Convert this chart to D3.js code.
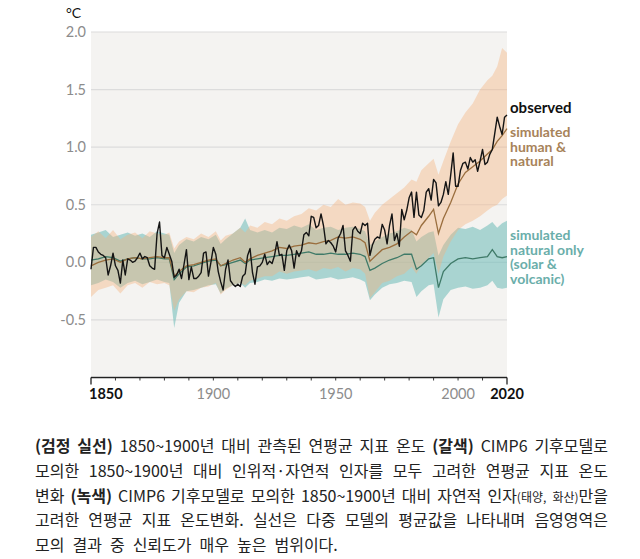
<!DOCTYPE html>
<html><head><meta charset="utf-8">
<script src="https://cdn.jsdelivr.net/npm/d3@7/dist/d3.min.js"></script>
<style>body{margin:0;background:#fff}svg{display:block}</style>
</head><body>
<svg id="c" width="640" height="559"></svg>
<script>
// ---------- data ----------
const obsYears = d3.range(1850, 2021);
const observed = [
-0.06,0.13,0.13,0.09,0.07,0.06,0.04,-0.11,-0.03,0.08,
-0.03,-0.07,-0.18,0.02,-0.11,0.03,0.02,0.00,0.01,0.04,
0.08,0.03,0.05,0.04,-0.03,-0.05,-0.06,0.25,0.35,0.06,
0.04,0.13,0.07,0.01,-0.13,-0.11,-0.06,-0.14,-0.02,0.11,
-0.15,-0.04,-0.14,-0.14,-0.12,-0.09,0.08,0.09,-0.12,0.00,
0.13,0.07,-0.08,-0.17,-0.24,-0.06,0.02,-0.16,-0.19,-0.21,
-0.19,-0.21,-0.12,-0.10,0.06,0.12,-0.09,-0.19,-0.04,-0.03,
0.00,0.07,-0.02,0.01,-0.01,0.06,0.18,0.06,0.07,-0.07,
0.10,0.15,0.10,-0.05,0.10,0.05,0.10,0.24,0.26,0.23,
0.40,0.39,0.30,0.32,0.42,0.32,0.16,0.19,0.17,0.14,
0.09,0.21,0.25,0.32,0.10,0.06,0.01,0.28,0.31,0.27,
0.25,0.34,0.32,0.34,0.06,0.15,0.20,0.22,0.21,0.33,
0.28,0.16,0.32,0.42,0.19,0.25,0.14,0.46,0.37,0.45,
0.56,0.61,0.39,0.61,0.41,0.39,0.45,0.61,0.64,0.54,
0.72,0.69,0.49,0.52,0.59,0.70,0.59,0.76,0.95,0.66,
0.66,0.80,0.86,0.87,0.81,0.91,0.87,0.89,0.79,0.88,
0.98,0.85,0.87,0.94,0.98,1.12,1.26,1.18,1.11,1.26,
1.28];

const simYears = [1850,1853,1856,1859,1862,1865,1868,1871,1874,1877,
1880,1882,1884,1886,1889,1892,1895,1898,1901,1903,
1905,1908,1911,1913,1915,1918,1921,1924,1927,1930,
1933,1936,1939,1942,1945,1948,1951,1954,1957,1960,
1962,1964,1966,1969,1972,1975,1978,1981,1983,1985,
1988,1990,1992,1994,1997,2000,2003,2006,2009,2012,
2014,2016,2018,2020];

const humanNatural = [-0.03,0.00,0.02,0.03,0.00,0.03,0.04,0.03,0.04,0.05,
0.04,0.04,-0.12,-0.08,-0.03,-0.02,0.00,0.02,0.03,-0.03,
-0.01,0.02,0.04,0.00,0.03,0.06,0.08,0.10,0.13,0.12,
0.14,0.15,0.17,0.16,0.18,0.19,0.22,0.21,0.22,0.20,
0.17,0.01,0.05,0.11,0.13,0.16,0.22,0.27,0.24,0.32,
0.40,0.46,0.25,0.38,0.52,0.68,0.78,0.83,0.88,0.94,
0.98,1.05,1.10,1.16];

const humanNaturalLow = [-0.30,-0.24,-0.22,-0.20,-0.27,-0.20,-0.18,-0.22,-0.17,-0.19,
-0.18,-0.20,-0.42,-0.32,-0.25,-0.26,-0.22,-0.21,-0.18,-0.28,
-0.24,-0.20,-0.18,-0.20,-0.16,-0.14,-0.12,-0.12,-0.08,-0.10,
-0.08,-0.07,-0.06,-0.08,-0.05,-0.06,-0.04,-0.08,-0.05,-0.06,
-0.10,-0.31,-0.26,-0.18,-0.16,-0.12,-0.10,-0.04,-0.10,-0.02,
0.04,0.08,-0.10,0.05,0.18,0.28,0.33,0.36,0.40,0.45,
0.48,0.50,0.55,0.58];

const humanNaturalHigh = [0.22,0.27,0.21,0.28,0.20,0.24,0.26,0.21,0.27,0.25,
0.24,0.26,0.12,0.18,0.22,0.20,0.25,0.22,0.27,0.19,
0.23,0.25,0.30,0.26,0.32,0.30,0.35,0.33,0.38,0.36,
0.40,0.42,0.47,0.45,0.50,0.48,0.55,0.50,0.52,0.51,
0.48,0.36,0.43,0.50,0.55,0.60,0.65,0.72,0.70,0.80,
0.86,0.90,0.76,0.88,1.05,1.20,1.30,1.38,1.50,1.58,
1.62,1.70,1.86,1.82];

const naturalOnly = [0.02,0.03,0.05,0.04,0.01,0.03,0.04,0.03,0.03,0.04,
0.03,0.03,-0.15,-0.10,-0.04,-0.03,-0.01,0.01,0.02,-0.03,
-0.02,0.00,0.02,-0.01,0.02,0.03,0.04,0.05,0.06,0.06,
0.07,0.08,0.09,0.07,0.07,0.08,0.07,0.07,0.08,0.07,
0.05,-0.07,-0.05,-0.01,0.02,0.04,0.07,0.07,-0.06,-0.03,
0.03,0.04,-0.22,-0.08,-0.01,0.03,0.04,0.03,0.04,0.05,
0.11,0.05,0.04,0.05];

const naturalLow = [-0.20,-0.18,-0.15,-0.17,-0.22,-0.18,-0.16,-0.19,-0.17,-0.15,
-0.17,-0.18,-0.57,-0.35,-0.25,-0.24,-0.22,-0.20,-0.19,-0.27,
-0.23,-0.20,-0.18,-0.22,-0.18,-0.17,-0.15,-0.16,-0.14,-0.15,
-0.14,-0.13,-0.12,-0.15,-0.14,-0.13,-0.15,-0.14,-0.13,-0.15,
-0.17,-0.33,-0.28,-0.22,-0.19,-0.18,-0.16,-0.17,-0.30,-0.25,
-0.20,-0.19,-0.48,-0.32,-0.24,-0.22,-0.21,-0.23,-0.22,-0.20,
-0.16,-0.22,-0.23,-0.22];

const naturalHigh = [0.24,0.26,0.28,0.22,0.24,0.26,0.23,0.25,0.22,0.27,
0.25,0.24,0.08,0.15,0.20,0.18,0.22,0.20,0.24,0.16,
0.20,0.25,0.30,0.38,0.28,0.26,0.28,0.26,0.30,0.29,
0.32,0.30,0.33,0.28,0.30,0.31,0.28,0.30,0.31,0.29,
0.27,0.15,0.18,0.22,0.25,0.27,0.30,0.28,0.18,0.22,
0.26,0.27,0.06,0.15,0.24,0.30,0.29,0.31,0.28,0.32,
0.35,0.30,0.34,0.36];

const yTickValues = [2.0, 1.5, 1.0, 0.5, 0.0, -0.5];
const xMinorTicks = d3.range(1850, 2021, 10);
const xTickLabels = [1850, 1900, 1950, 2000, 2020];
const boldYears = [1850, 2020];
const unitLabel = "°C";
const labelObserved = ["observed"];
const labelHuman = ["simulated", "human &", "natural"];
const labelNatural = ["simulated", "natural only", "(solar &", "volcanic)"];

// caption: lines -> words -> spans [text, style]  (b = bold, s = small, n = normal)
const captionLines = [
  [[["(검정","b"]],[["실선)","b"]],[["1850~1900년","n"]],[["대비","n"]],[["관측된","n"]],[["연평균","n"]],[["지표","n"]],[["온도","n"]],[["(갈색)","b"]],[["CIMP6","n"]],[["기후모델로","n"]]],
  [[["모의한","n"]],[["1850~1900년","n"]],[["대비","n"]],[["인위적·자연적","n"]],[["인자를","n"]],[["모두","n"]],[["고려한","n"]],[["연평균","n"]],[["지표","n"]],[["온도","n"]]],
  [[["변화","n"]],[["(녹색)","b"]],[["CIMP6","n"]],[["기후모델로","n"]],[["모의한","n"]],[["1850~1900년","n"]],[["대비","n"]],[["자연적","n"]],[["인자","n"],["(태양,","s"]],[["화산)","s"],["만을","n"]]],
  [[["고려한","n"]],[["연평균","n"]],[["지표","n"]],[["온도변화.","n"]],[["실선은","n"]],[["다중","n"]],[["모델의","n"]],[["평균값을","n"]],[["나타내며","n"]],[["음영영역은","n"]]],
  [[["모의","n"]],[["결과","n"]],[["중","n"]],[["신뢰도가","n"]],[["매우","n"]],[["높은","n"]],[["범위이다.","n"]]]
];

// ---------- drawing ----------
const svg = d3.select("#c");
const x = d3.scaleLinear().domain([1850, 2020]).range([91, 507]);
const y = d3.scaleLinear().domain([-1, 2]).range([377.5, 32]);
const LATO = "Lato, 'Open Sans', sans-serif";

svg.append("rect").attr("x", x(1850)).attr("y", y(2)).attr("width", x(2020) - x(1850))
  .attr("height", 376 - y(2)).attr("fill", "#f4f3f1");

svg.append("g").selectAll("line").data(yTickValues).join("line")
  .attr("x1", x(1850)).attr("x2", x(2020))
  .attr("y1", d => y(d)).attr("y2", d => y(d))
  .attr("stroke", "#dcdcdc").attr("stroke-width", 1.2);

svg.append("g").selectAll("text").data(yTickValues).join("text")
  .attr("x", 86).attr("y", d => y(d) + 5)
  .attr("text-anchor", "end").attr("font-family", LATO).attr("font-size", 14.5)
  .attr("fill", "#8c8c8c").text(d => d.toFixed(1));

svg.append("text").attr("x", 66).attr("y", 18).attr("font-family", LATO)
  .attr("font-size", 14).attr("fill", "#111").text(unitLabel);

const simIdx = d3.range(simYears.length);
const bandNat = d3.area().x(i => x(simYears[i])).y0(i => y(naturalLow[i])).y1(i => y(naturalHigh[i]));
const bandHN = d3.area().x(i => x(simYears[i])).y0(i => y(humanNaturalLow[i])).y1(i => y(humanNaturalHigh[i]));

svg.append("path").datum(simIdx).attr("d", bandNat)
  .attr("fill", "rgb(119,191,189)").attr("fill-opacity", 0.6);
svg.append("path").datum(simIdx).attr("d", bandHN)
  .attr("fill", "rgb(246,178,126)").attr("fill-opacity", 0.4);

const lineNat = d3.line().x(i => x(simYears[i])).y(i => y(naturalOnly[i]));
const lineHN = d3.line().x(i => x(simYears[i])).y(i => y(humanNatural[i]));
svg.append("path").datum(simIdx).attr("d", lineNat).attr("fill", "none")
  .attr("stroke", "#3f7a68").attr("stroke-width", 1.3);
svg.append("path").datum(simIdx).attr("d", lineHN).attr("fill", "none")
  .attr("stroke", "#9a6e3e").attr("stroke-width", 1.3);

const lineObs = d3.line().x((d, i) => x(obsYears[i])).y(d => y(d));
svg.append("path").datum(observed).attr("d", lineObs).attr("fill", "none")
  .attr("stroke", "#141414").attr("stroke-width", 1.4).attr("stroke-linejoin", "round");

// x axis
const axisY = 377.5;
svg.append("line").attr("x1", x(1850)).attr("x2", x(2020)).attr("y1", axisY).attr("y2", axisY)
  .attr("stroke", "#222").attr("stroke-width", 1.3);
svg.append("g").selectAll("line").data(xMinorTicks).join("line")
  .attr("x1", d => x(d)).attr("x2", d => x(d))
  .attr("y1", axisY).attr("y2", d => (d === 1850 || d === 2020) ? axisY + 7 : axisY + 3)
  .attr("stroke", "#222").attr("stroke-width", d => (d === 1850 || d === 2020) ? 1.3 : 0.9);
svg.append("g").selectAll("text").data(xTickLabels).join("text")
  .attr("x", d => d === 1850 ? x(d) - 2 : x(d))
  .attr("y", 399)
  .attr("text-anchor", d => d === 1850 ? "start" : "middle")
  .attr("font-family", LATO).attr("font-size", 14.5)
  .attr("font-weight", d => boldYears.includes(d) ? 700 : 400)
  .attr("fill", d => boldYears.includes(d) ? "#111" : "#8c8c8c")
  .text(d => d);

// series labels: one text element per block, one tspan per line
function block(lines, y0, lh, color, size) {
  const t = svg.append("text").attr("x", 510).attr("y", y0)
    .attr("font-family", LATO).attr("font-weight", 700).attr("font-size", size)
    .attr("fill", color);
  t.selectAll("tspan").data(lines).join("tspan")
    .attr("x", 510).attr("dy", (d, i) => i === 0 ? 0 : lh).text(d => d);
}
block(labelObserved, 113, 15, "#111", 15);
block(labelHuman, 137, 14.5, "#a7835a", 14);
block(labelNatural, 240, 14.5, "#6aaeaa", 14);

// caption (justified)
const CAP = "'Noto Sans CJK KR', sans-serif";
const capLeft = 35, capRight = 608, capFs = 16, capTop = 452, capLH = 24.8;
const styleOf = s => ({
  weight: s === "b" ? 700 : 400,
  size: s === "s" ? 12 : capFs
});
captionLines.forEach((words, li) => {
  const by = capTop + li * capLH;
  const nodes = words.map(w => {
    const t = svg.append("text").attr("y", by).attr("font-family", CAP).attr("fill", "#222");
    w.forEach(([txt, st]) => {
      const s = styleOf(st);
      t.append("tspan").attr("font-weight", s.weight).attr("font-size", s.size).text(txt);
    });
    return t;
  });
  const widths = nodes.map(n => n.node().getComputedTextLength());
  const total = d3.sum(widths);
  const last = li === captionLines.length - 1;
  const gap = last ? capFs * 0.5 : (capRight - capLeft - total) / (nodes.length - 1);
  let cx = capLeft;
  nodes.forEach((n, i) => { n.attr("x", cx); cx += widths[i] + gap; });
});
</script>
</body></html>
